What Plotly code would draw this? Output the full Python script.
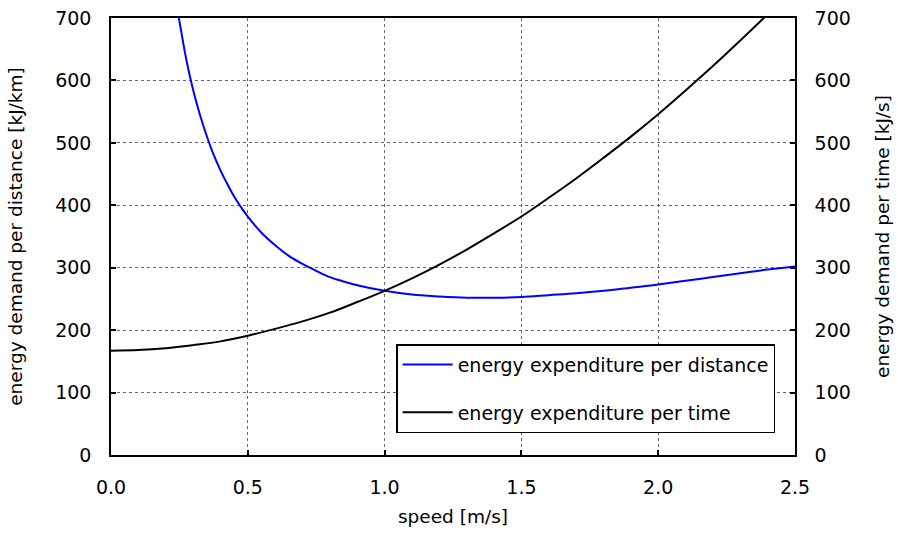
import plotly.graph_objects as go

speed = [0.0, 0.1, 0.2, 0.3, 0.4, 0.5, 0.6, 0.7, 0.8, 0.9, 1.0, 1.1, 1.2, 1.3,
         1.4, 1.5, 1.6, 1.7, 1.8, 1.9, 2.0, 2.1, 2.2, 2.3, 2.4, 2.5]
per_time = [167, 168, 171, 176, 182, 191, 202, 214, 228, 245, 263, 283, 305, 329,
            355, 382, 412, 443, 476, 510, 546, 584, 623, 664, 706, 750]

speed_d = [0.24, 0.25, 0.275, 0.3, 0.325, 0.35, 0.375, 0.4, 0.425, 0.45, 0.475, 0.5,
           0.55, 0.6, 0.65, 0.7, 0.75, 0.8, 0.85, 0.9, 1.0, 1.1, 1.2,
           1.3, 1.4, 1.5, 1.6, 1.7, 1.8, 1.9, 2.0, 2.1, 2.2, 2.3, 2.4, 2.5]
per_distance = [719, 695, 634, 585, 545, 511, 481, 456, 434, 414, 397, 382,
                356, 336, 319, 306, 295, 285, 278, 272, 263, 257, 254,
                252, 252, 253, 256, 259, 263, 268, 273, 279, 285, 291, 297, 302]

x_ticks = [0.0, 0.5, 1.0, 1.5, 2.0, 2.5]
y_ticks = [0, 100, 200, 300, 400, 500, 600, 700]

FONT = "DejaVu Sans"
TICK_SIZE = 19
TITLE_SIZE = 18.5

fig = go.Figure()
fig.add_trace(go.Scatter(x=speed_d, y=per_distance, mode="lines", line_shape="spline",
                         line=dict(color="#0000ff", width=2),
                         name="energy expenditure per distance", legendgroup="a"))
fig.add_trace(go.Scatter(x=speed, y=per_time, mode="lines", line_shape="spline",
                         line=dict(color="black", width=2), yaxis="y2",
                         name="energy expenditure per time", legendgroup="b"))

axis_common = dict(showline=True, linecolor="black", linewidth=1.5,
                   ticks="inside", ticklen=5, tickwidth=1.5, tickcolor="black",
                   ticklabelstandoff=14, automargin=False,
                   zeroline=False, tickfont=dict(family=FONT, size=TICK_SIZE, color="black"))

fig.update_layout(
    width=898, height=533,
    margin=dict(l=111, r=103, t=18, b=78),
    paper_bgcolor="white", plot_bgcolor="white",
    font=dict(family=FONT, size=TITLE_SIZE, color="black"),
    xaxis=dict(range=[0, 2.5], tickvals=x_ticks, ticktext=[f"{v:.1f}" for v in x_ticks],
               showgrid=True, gridcolor="#666666", griddash="dot", gridwidth=1,
               mirror=True,
               title=dict(text="speed [m/s]", font=dict(family=FONT, size=TITLE_SIZE), standoff=14),
               **axis_common),
    yaxis=dict(range=[0, 700], tickvals=y_ticks,
               showgrid=True, gridcolor="#666666", griddash="dot", gridwidth=1,
               mirror=True,
               title=dict(text="energy demand per distance [kJ/km]", font=dict(family=FONT, size=TITLE_SIZE), standoff=28),
               **axis_common),
    yaxis2=dict(range=[0, 700], tickvals=y_ticks, overlaying="y", side="right",
                showgrid=False,
                title=dict(text="energy demand per time [kJ/s]", font=dict(family=FONT, size=TITLE_SIZE), standoff=26),
                **axis_common),
    legend=dict(x=0.971, y=0.05, xanchor="right", yanchor="bottom",
                bgcolor="white", bordercolor="black", borderwidth=1.5,
                font=dict(family=FONT, size=TICK_SIZE), tracegroupgap=20,
                itemwidth=50),
)

fig.write_html("out.html")
